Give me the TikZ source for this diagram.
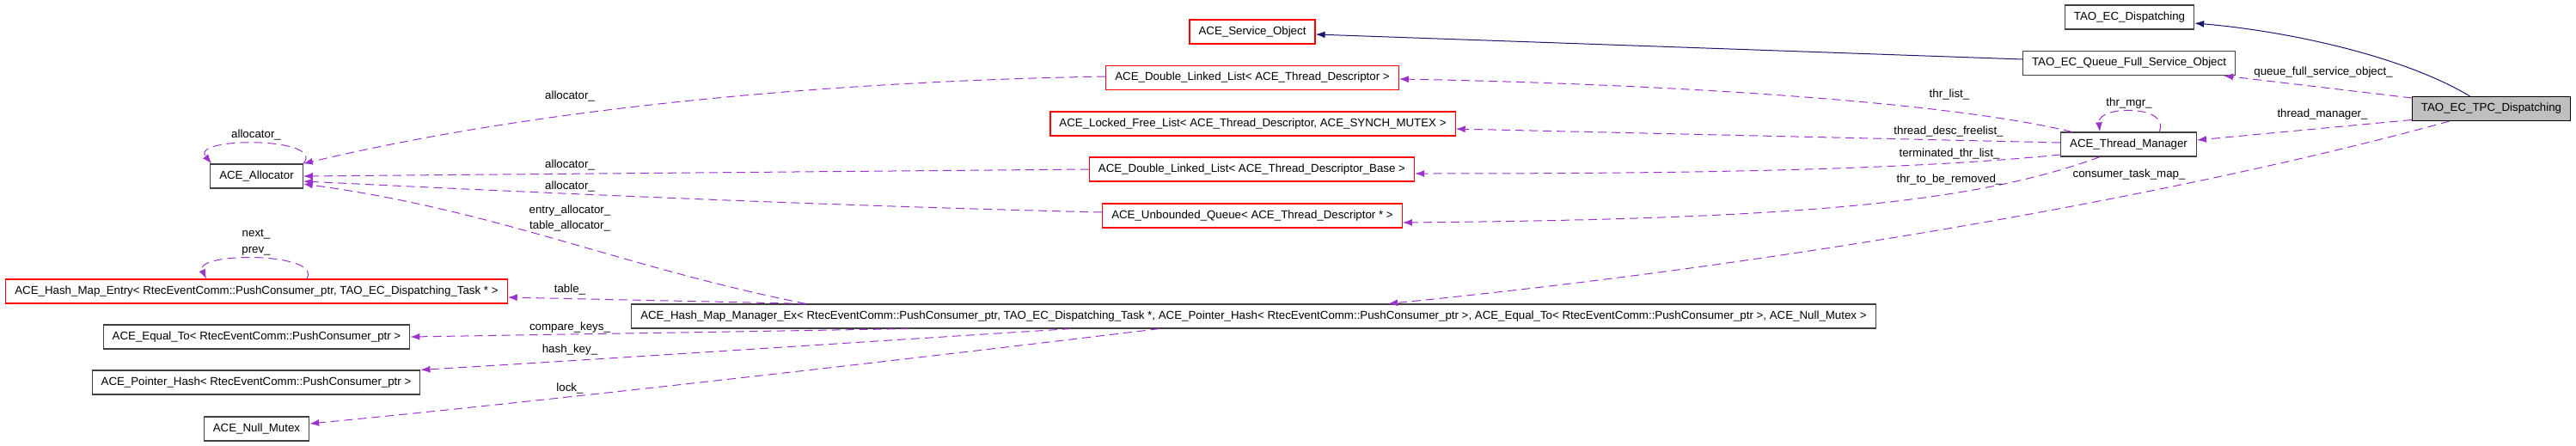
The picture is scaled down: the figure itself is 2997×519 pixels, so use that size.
\documentclass[tikz,border=0pt]{standalone}
\usepackage{fontspec}
\setmainfont{Liberation Sans}
\usetikzlibrary{arrows.meta}
\definecolor{edgepurple}{RGB}{154,50,205}
\definecolor{navyedge}{RGB}{25,25,112}

\begin{document}
\begin{tikzpicture}[x=1pt,y=-1pt,
  cls/.style={draw=black!75, line width=1.2pt, rectangle, minimum height=28pt, inner xsep=10.5pt, inner ysep=0pt, font=\fontsize{13.3}{16}\selectfont},
  clsred/.style={cls, draw=red},
  clsmain/.style={cls, fill=black!25, draw=black},
  lbl/.style={inner sep=0pt, font=\fontsize{13.3}{16}\selectfont},
  usage/.style={draw=edgepurple, line width=1pt, dash pattern=on 10pt off 6pt, -{Latex[length=11pt,width=8pt]}},
  inherit/.style={draw=navyedge, line width=1pt, -{Latex[length=11pt,width=8pt]}}]
	\useasboundingbox (0,0) rectangle (2997,519);
	% classes
	\node[clsmain] (tpc) at (2898.5,126.5) {TAO\_EC\_TPC\_Dispatching};
	\node[cls] (disp) at (2477.5,20) {TAO\_EC\_Dispatching};
	\node[cls] (qfso) at (2477,73.5) {TAO\_EC\_Queue\_Full\_Service\_Object};
	\node[cls] (tm) at (2476.5,168) {ACE\_Thread\_Manager};
	\node[clsred] (svc) at (1457,37) {ACE\_Service\_Object};
	\node[clsred] (dll) at (1457,90.5) {ACE\_Double\_Linked\_List< ACE\_Thread\_Descriptor >};
	\node[clsred] (lfl) at (1457.5,144) {ACE\_Locked\_Free\_List< ACE\_Thread\_Descriptor, ACE\_SYNCH\_MUTEX >};
	\node[clsred] (dllb) at (1456.5,197) {ACE\_Double\_Linked\_List< ACE\_Thread\_Descriptor\_Base >};
	\node[clsred] (uq) at (1457,251) {ACE\_Unbounded\_Queue< ACE\_Thread\_Descriptor * >};
	\node[cls] (alloc) at (298.5,205) {ACE\_Allocator};
	\node[clsred] (hme) at (298.5,339) {ACE\_Hash\_Map\_Entry< RtecEventComm::PushConsumer\_ptr, TAO\_EC\_Dispatching\_Task * >};
	\node[cls] (hmm) at (1458.5,368) {ACE\_Hash\_Map\_Manager\_Ex< RtecEventComm::PushConsumer\_ptr, TAO\_EC\_Dispatching\_Task *, ACE\_Pointer\_Hash< RtecEventComm::PushConsumer\_ptr >, ACE\_Equal\_To< RtecEventComm::PushConsumer\_ptr >, ACE\_Null\_Mutex >};
	\node[cls] (eq) at (298.5,392) {ACE\_Equal\_To< RtecEventComm::PushConsumer\_ptr >};
	\node[cls] (ph) at (298,445) {ACE\_Pointer\_Hash< RtecEventComm::PushConsumer\_ptr >};
	\node[cls] (nm) at (298.5,499) {ACE\_Null\_Mutex};
	% inheritance
	\draw[inherit] ([xshift=-25pt]tpc.north) .. controls (2790,62) and (2650,35) .. ([yshift=-7pt]disp.east);
	\draw[inherit] ([yshift=4.5pt]qfso.west) -- ([yshift=-3pt]svc.east);
	% members of TAO_EC_TPC_Dispatching
	\draw[usage] ([yshift=12.5pt]tpc.west) -- ([xshift=110pt]qfso.south);
	\draw[usage] ([yshift=-13pt]tpc.west) -- ([yshift=5pt]tm.east);
	\draw[usage] ([xshift=-49pt]tpc.south) .. controls (2600,210) and (2150,300) .. ([xshift=156.5pt]hmm.north);
	\node[lbl] (lqfso) at (2703,84) {queue\_full\_service\_object\_};
	\node[lbl] (ltm) at (2702,133) {thread\_manager\_};
	\node[lbl] (lctm) at (2477,203) {consumer\_task\_map\_};
	% members of ACE_Thread_Manager
	\draw[usage] ([xshift=35.5pt]tm.north) .. controls (2527,122) and (2440,122) .. ([xshift=-33.5pt]tm.north);
	\draw[usage] ([xshift=-66pt]tm.north) .. controls (2250,115) and (1900,97) .. ([yshift=-1.5pt]dll.east);
	\draw[usage] ([yshift=2pt]tm.west) -- ([yshift=-6pt]lfl.east);
	\draw[usage] ([yshift=-12pt]tm.west) .. controls (2200,200) and (1900,202) .. ([yshift=-5pt]dllb.east);
	\draw[usage] ([xshift=-33.5pt]tm.south) .. controls (2300,235) and (2100,255) .. ([yshift=-8pt]uq.east);
	\node[lbl] (lthrmgr) at (2477,120) {thr\_mgr\_};
	\node[lbl] (lthrlist) at (2268,110) {thr\_list\_};
	\node[lbl] (ltdf) at (2267,153) {thread\_desc\_freelist\_};
	\node[lbl] (lttl) at (2268,179) {terminated\_thr\_list\_};
	\node[lbl] (ltbr) at (2268,209) {thr\_to\_be\_removed\_};
	% allocators
	\draw[usage] ([yshift=1.5pt]dll.west) .. controls (1000,94) and (650,120) .. (alloc.north east);
	\draw[usage] (dllb.west) -- (alloc.east);
	\draw[usage] ([yshift=4pt]uq.west) .. controls (900,238) and (500,218) .. ([yshift=-6pt]alloc.east);
	\draw[usage] ([xshift=-521pt]hmm.north) .. controls (720,310) and (580,245) .. ([yshift=-9pt]alloc.east);
	\draw[usage] (alloc.north east) .. controls (380,159) and (220,159) .. ([xshift=2pt]alloc.north west);
	\node[lbl] (lalloca) at (663,112) {allocator\_};
	\node[lbl] (lallocb) at (663,192) {allocator\_};
	\node[lbl] (lallocc) at (663,217) {allocator\_};
	\node[lbl] (lentry) at (663,245) {entry\_allocator\_};
	\node[lbl] (ltalloc) at (663,263) {table\_allocator\_};
	\node[lbl] (lallocs) at (298,157) {allocator\_};
	% members of ACE_Hash_Map_Manager_Ex
	\draw[usage] ([xshift=-521pt]hmm.north) -- ([yshift=-7pt]hme.east);
	\draw[usage] ([xshift=58.5pt]hme.north) .. controls (375,293) and (225,293) .. ([xshift=-58.5pt]hme.north);
	\draw[usage] ([xshift=-401pt]hmm.south) -- (eq.east);
	\draw[usage] ([xshift=-213pt]hmm.south) .. controls (1000,398) and (700,418) .. (ph.north east);
	\draw[usage] ([xshift=-110pt]hmm.south) .. controls (1000,425) and (600,470) .. ([yshift=6pt]nm.east);
	\node[lbl] (ltable) at (663,337) {table\_};
	\node[lbl] (lnext) at (298,273) {next\_};
	\node[lbl] (lprev) at (298,292) {prev\_};
	\node[lbl] (lcmp) at (663,381) {compare\_keys\_};
	\node[lbl] (lhash) at (663,407) {hash\_key\_};
	\node[lbl] (llock) at (663,452) {lock\_};
\end{tikzpicture}
\end{document}
